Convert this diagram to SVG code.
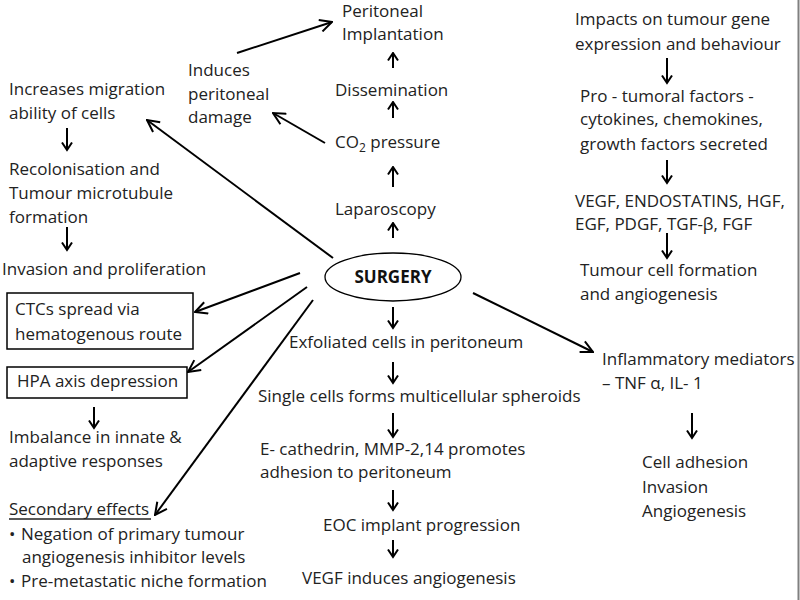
<svg xmlns="http://www.w3.org/2000/svg" width="800" height="600" viewBox="0 0 800 600">
<defs>
<style>
text{font-family:"Open Sans","Noto Sans","Liberation Sans",sans-serif;font-size:17px;fill:#222}
.b{font-weight:bold;fill:#111}
.c line{stroke:#000;stroke-width:2;fill:none}
.c .l{marker-end:url(#ah)}
.c .s{marker-end:url(#sh)}
.box{fill:#fff;stroke:#000;stroke-width:1.5}
</style>
<marker id="ah" markerUnits="userSpaceOnUse" viewBox="0 0 14 14" refX="13" refY="7" markerWidth="14" markerHeight="14" orient="auto"><path d="M1,1 L13,7 L1,13" fill="none" stroke="#000" stroke-width="2"/></marker>
<marker id="sh" markerUnits="userSpaceOnUse" viewBox="0 0 10 12" refX="8.5" refY="6" markerWidth="10" markerHeight="12" orient="auto"><path d="M1,1 L8.5,6 L1,11" fill="none" stroke="#000" stroke-width="2"/></marker>
</defs>
<rect width="800" height="600" fill="#fff"/>
<line x1="798.5" y1="0" x2="798.5" y2="600" stroke="#808080" stroke-width="2"/>

<g id="surgery"><ellipse cx="393" cy="277" rx="68" ry="24" fill="#fff" stroke="#000" stroke-width="1.3"/><text class="b" x="393" y="283" text-anchor="middle">SURGERY</text></g>

<g id="peritoneal-implantation"><text x="342" y="17">Peritoneal</text><text x="342" y="40">Implantation</text></g>
<g id="dissemination"><text x="335" y="96">Dissemination</text></g>
<g id="co2"><text x="335" y="148">CO<tspan font-size="12" dy="4">2</tspan><tspan dy="-4"> pressure</tspan></text></g>
<g id="laparoscopy"><text x="335" y="215">Laparoscopy</text></g>
<g id="induces"><text x="188" y="76">Induces</text><text x="188" y="100">peritoneal</text><text x="188" y="123">damage</text></g>

<g id="migration"><text x="9" y="95">Increases migration</text><text x="9" y="119">ability of cells</text></g>
<g id="recolonisation"><text x="9" y="175">Recolonisation and</text><text x="9" y="199">Tumour microtubule</text><text x="9" y="223">formation</text></g>
<g id="invasion"><text x="2" y="275">Invasion and proliferation</text></g>
<g id="ctcs"><rect class="box" x="7" y="293" width="186" height="56"/><text x="15" y="315">CTCs spread via</text><text x="15" y="340">hematogenous route</text></g>
<g id="hpa"><rect class="box" x="7" y="367" width="180" height="31"/><text x="17" y="387">HPA axis depression</text></g>
<g id="imbalance"><text x="9" y="443">Imbalance in innate &amp;</text><text x="9" y="467">adaptive responses</text></g>
<g id="secondary"><text x="9" y="515">Secondary effects</text><line x1="9" y1="519" x2="151" y2="519" stroke="#222" stroke-width="1.3"/>
<text x="9" y="540">•</text><text x="21" y="540">Negation of primary tumour</text>
<text x="22" y="563">angiogenesis inhibitor levels</text>
<text x="9" y="587">•</text><text x="21" y="587">Pre-metastatic niche formation</text></g>

<g id="exfoliated"><text x="289" y="348">Exfoliated cells in peritoneum</text></g>
<g id="spheroids"><text x="258" y="402">Single cells forms multicellular spheroids</text></g>
<g id="cathedrin"><text x="260" y="455">E- cathedrin, MMP-2,14 promotes</text><text x="260" y="478">adhesion to peritoneum</text></g>
<g id="eoc"><text x="323" y="531">EOC implant progression</text></g>
<g id="vegf-angio"><text x="302" y="584">VEGF induces angiogenesis</text></g>

<g id="impacts"><text x="575" y="25">Impacts on tumour gene</text><text x="575" y="50">expression and behaviour</text></g>
<g id="protumoral"><text x="580" y="102">Pro - tumoral factors -</text><text x="580" y="125">cytokines, chemokines,</text><text x="580" y="150">growth factors secreted</text></g>
<g id="factors"><text x="575" y="207">VEGF, ENDOSTATINS, HGF,</text><text x="575" y="230">EGF, PDGF, TGF-β, FGF</text></g>
<g id="tumour-cell"><text x="580" y="276">Tumour cell formation</text><text x="580" y="300">and angiogenesis</text></g>
<g id="inflammatory"><text x="602" y="365">Inflammatory mediators</text><text x="602" y="389">– TNF α, IL- 1</text></g>
<g id="adhesion"><text x="642" y="468">Cell adhesion</text><text x="642" y="493">Invasion</text><text x="642" y="517">Angiogenesis</text></g>

<g id="connectors" class="c">
<line class="s" x1="393" y1="238" x2="393" y2="223"/>
<line class="s" x1="393" y1="187" x2="393" y2="167"/>
<line class="s" x1="393" y1="118" x2="393" y2="102"/>
<line class="s" x1="393" y1="68" x2="393" y2="53"/>
<line class="l" x1="325" y1="143" x2="273" y2="113"/>
<line class="l" x1="237" y1="53" x2="332" y2="22"/>
<line class="l" x1="333" y1="258" x2="147" y2="120"/>
<line class="l" x1="300" y1="273" x2="195" y2="312"/>
<line class="l" x1="307" y1="287" x2="188" y2="372"/>
<line class="l" x1="313" y1="300" x2="155" y2="515"/>
<line class="l" x1="473" y1="293" x2="593" y2="352"/>
<line class="s" x1="67" y1="128" x2="67" y2="150"/>
<line class="s" x1="67" y1="227" x2="67" y2="250"/>
<line class="s" x1="94" y1="407" x2="94" y2="428"/>
<line class="s" x1="393" y1="307" x2="393" y2="328"/>
<line class="s" x1="393" y1="362" x2="393" y2="383"/>
<line class="s" x1="393" y1="413" x2="393" y2="437"/>
<line class="s" x1="393" y1="490" x2="393" y2="510"/>
<line class="s" x1="393" y1="540" x2="393" y2="557"/>
<line class="s" x1="667" y1="58" x2="667" y2="83"/>
<line class="s" x1="667" y1="160" x2="667" y2="183"/>
<line class="s" x1="667" y1="233" x2="667" y2="258"/>
<line class="s" x1="692" y1="413" x2="692" y2="438"/>
</g>
</svg>
